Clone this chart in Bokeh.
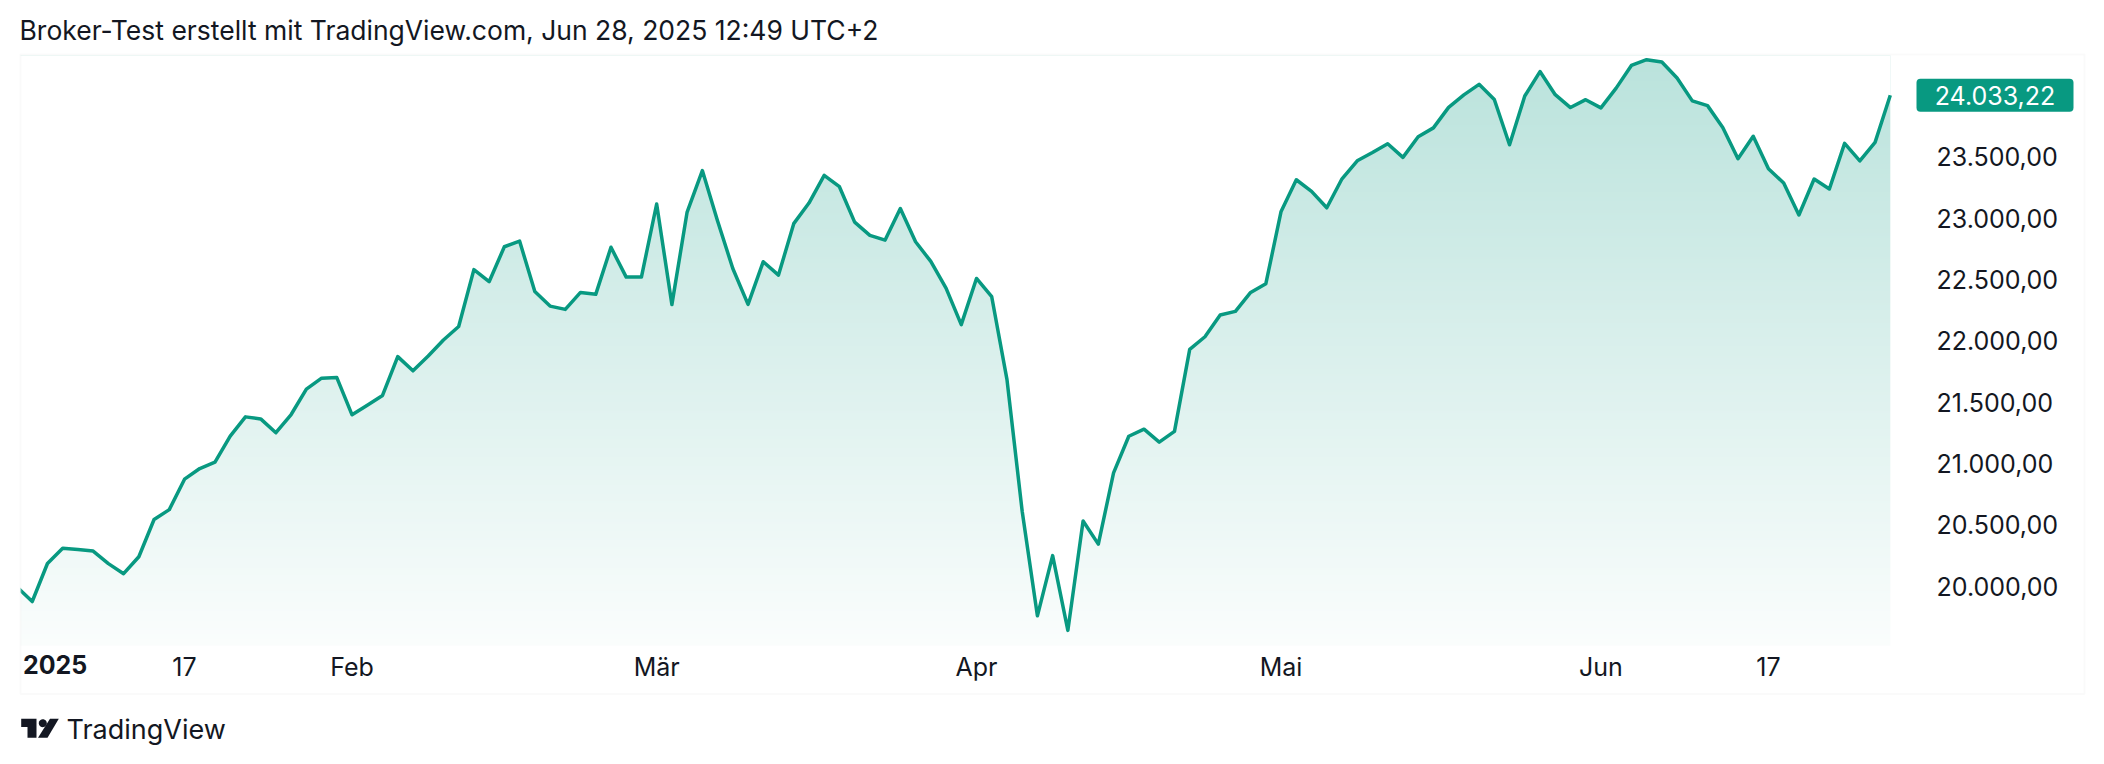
import numpy as np
from bokeh.plotting import figure
from bokeh.models import Range1d, FixedTicker, LinearAxis, Label, BoxAnnotation, PolyAnnotation
from bokeh.embed import file_html
from bokeh.resources import INLINE

# ---------------- data (DAX daily closes) ----------------
dates = [
    "2025-01-02", "2025-01-03", "2025-01-06", "2025-01-07", "2025-01-08", "2025-01-09", "2025-01-10",
    "2025-01-13", "2025-01-14", "2025-01-15", "2025-01-16", "2025-01-17", "2025-01-20", "2025-01-21",
    "2025-01-22", "2025-01-23", "2025-01-24", "2025-01-27", "2025-01-28", "2025-01-29", "2025-01-30",
    "2025-01-31",
    "2025-02-03", "2025-02-04", "2025-02-05", "2025-02-06", "2025-02-07", "2025-02-10", "2025-02-11",
    "2025-02-12", "2025-02-13", "2025-02-14", "2025-02-17", "2025-02-18", "2025-02-19", "2025-02-20",
    "2025-02-21", "2025-02-24", "2025-02-25", "2025-02-26", "2025-02-27", "2025-02-28",
    "2025-03-03", "2025-03-04", "2025-03-05", "2025-03-06", "2025-03-07", "2025-03-10", "2025-03-11",
    "2025-03-12", "2025-03-13", "2025-03-14", "2025-03-17", "2025-03-18", "2025-03-19", "2025-03-20",
    "2025-03-21", "2025-03-24", "2025-03-25", "2025-03-26", "2025-03-27", "2025-03-28", "2025-03-31",
    "2025-04-01", "2025-04-02", "2025-04-03", "2025-04-04", "2025-04-07", "2025-04-08", "2025-04-09",
    "2025-04-10", "2025-04-11", "2025-04-14", "2025-04-15", "2025-04-16", "2025-04-17", "2025-04-22",
    "2025-04-23", "2025-04-24", "2025-04-25", "2025-04-28", "2025-04-29", "2025-04-30",
    "2025-05-02", "2025-05-05", "2025-05-06", "2025-05-07", "2025-05-08", "2025-05-09", "2025-05-12",
    "2025-05-13", "2025-05-14", "2025-05-15", "2025-05-16", "2025-05-19", "2025-05-20", "2025-05-21",
    "2025-05-22", "2025-05-23", "2025-05-26", "2025-05-27", "2025-05-28", "2025-05-29", "2025-05-30",
    "2025-06-02", "2025-06-03", "2025-06-04", "2025-06-05", "2025-06-06", "2025-06-09", "2025-06-10",
    "2025-06-11", "2025-06-12", "2025-06-13", "2025-06-16", "2025-06-17", "2025-06-18", "2025-06-19",
    "2025-06-20", "2025-06-23", "2025-06-24", "2025-06-25", "2025-06-26", "2025-06-27",
]

closes = [
    20024.66, 19906.08, 20216.19, 20340.57, 20329.94, 20317.10, 20214.79, 20132.85, 20271.33, 20574.69,
    20655.39, 20903.39, 20990.31, 21042.00, 21254.27, 21411.53, 21394.93, 21282.18, 21430.58, 21637.53,
    21727.20, 21732.05,
    21428.24, 21505.65, 21585.93, 21902.42, 21787.00, 21908.00, 22037.83, 22148.03, 22612.02, 22513.42,
    22798.43, 22844.48, 22433.63, 22314.65, 22287.56, 22425.83, 22410.27, 22794.11, 22550.89, 22551.43,
    23147.02, 22326.81, 23081.03, 23419.48, 23008.94, 22620.95, 22328.77, 22676.41, 22567.14, 22986.82,
    23154.57, 23380.70, 23288.06, 22999.15, 22891.68, 22852.66, 23109.79, 22839.03, 22678.74, 22461.52,
    22163.49,
    22539.98, 22390.84, 21717.39, 20641.72, 19789.62, 20280.26, 19670.88, 20562.63, 20374.10, 20954.83,
    21253.70, 21311.02, 21205.86, 21293.53, 21961.97, 22064.52, 22242.45, 22271.67, 22425.83, 22496.98,
    23086.65, 23344.52, 23249.65, 23115.96, 23352.69, 23499.32, 23566.54, 23638.56, 23527.05, 23695.59,
    23767.43, 23934.88, 24036.11, 24122.40, 23999.17, 23629.58, 24027.65, 24226.49, 24038.19, 23933.23,
    23997.48,
    23930.67, 24091.62, 24276.48, 24323.58, 24304.46, 24174.32, 23987.56, 23948.90, 23771.45, 23516.23,
    23699.12, 23434.65, 23317.81, 23057.38, 23350.55, 23269.02, 23641.58, 23498.33, 23649.30, 24033.22,
]

year_label = "2025"
x_tick_dates = ["2025-01-17", "2025-02-03", "2025-03-03", "2025-04-01", "2025-05-02", "2025-06-02", "2025-06-17"]
x_tick_labels = ["17", "Feb", "Mär", "Apr", "Mai", "Jun", "17"]

y_ticks = [20000, 20500, 21000, 21500, 22000, 22500, 23000, 23500]
y_tick_labels = ["20.000,00", "20.500,00", "21.000,00", "21.500,00",
                 "22.000,00", "22.500,00", "23.000,00", "23.500,00"]

last_price_label = "24.033,22"
title_text = "Broker-Test erstellt mit TradingView.com, Jun 28, 2025 12:49 UTC+2"
brand_text = "TradingView"

# ---------------- styling / layout ----------------
FONT = "Inter"
TEXT = "#131722"
GREEN = "#089981"
BORDER = "#ededed"

W, H = 2088, 756
SLOT = 15.23          # px per bar
X0PX = 16.5           # canvas x of first bar
Y20K = 589.5          # canvas y of 20000
PXU = 0.12266         # px per index point
PANE = (21, 1905, 55, 645)   # left, right, top, bottom of the chart pane (px)
LABEL_LIFT = 4        # price-scale labels sit slightly above their level


def dx(cx):
    return (cx - X0PX) / SLOT


def dy(cy):
    return 20000 + (Y20K - cy) / PXU


idx = np.arange(len(closes))

p = figure(width=W, height=H, output_backend="svg", toolbar_location=None,
           x_range=Range1d(dx(0), dx(W)), y_range=Range1d(dy(H), dy(0)),
           min_border=0, min_border_left=0, min_border_right=0,
           min_border_top=0, min_border_bottom=0,
           x_axis_location=None, y_axis_location=None)
p.extra_y_ranges = {"scale": Range1d(dy(H + LABEL_LIFT), dy(LABEL_LIFT))}
p.outline_line_color = None
p.xgrid.visible = False
p.ygrid.visible = False
p.background_fill_color = "white"
p.border_fill_color = "white"

pane_top = dy(PANE[2])
pane_bot = dy(PANE[3])

# gradient under the line: vertical gradient image, masked above the line
ny = 256
t = np.linspace(0.0, 1.0, ny)
alpha = 0.02 + t * (0.28 - 0.02)
img = np.empty((ny, 1), dtype=np.uint32)
view = img.view(dtype=np.uint8).reshape((ny, 1, 4))
view[:, 0, 0] = np.round(255 - alpha * (255 - 8)).astype(np.uint8)
view[:, 0, 1] = np.round(255 - alpha * (255 - 153)).astype(np.uint8)
view[:, 0, 2] = np.round(255 - alpha * (255 - 129)).astype(np.uint8)
view[:, 0, 3] = 255
p.image_rgba(image=[img], x=0, y=pane_bot, dw=len(closes) - 1, dh=pane_top - pane_bot)
p.varea(x=idx, y1=closes, y2=pane_top, fill_color="white")
p.line(idx, closes, line_color=GREEN, line_width=3.5, line_join="round")

# cut the pane at its left edge
p.add_layout(BoxAnnotation(left=dx(-5), right=dx(PANE[0] - 1), top=dy(40), bottom=dy(700),
                           fill_color="white", fill_alpha=1, line_color=None))

# right price axis (labels drawn inside the canvas)
yax = LinearAxis(y_range_name="scale", ticker=FixedTicker(ticks=y_ticks),
                 major_label_overrides={v: s for v, s in zip(y_ticks, y_tick_labels)})
yax.axis_line_color = None
yax.major_tick_line_color = None
yax.minor_tick_line_color = None
yax.major_tick_out = 0
yax.major_tick_in = 0
yax.minor_tick_out = 0
yax.major_label_standoff = 1936 - W
yax.major_label_text_font = FONT
yax.major_label_text_font_size = "25px"
yax.major_label_text_color = TEXT
p.add_layout(yax, "right")

# bottom time axis
tick_idx = [dates.index(d) for d in x_tick_dates]
xax = LinearAxis(ticker=FixedTicker(ticks=tick_idx),
                 major_label_overrides={i: s for i, s in zip(tick_idx, x_tick_labels)})
xax.axis_line_color = None
xax.major_tick_line_color = None
xax.minor_tick_line_color = None
xax.major_tick_out = 0
xax.major_tick_in = 0
xax.minor_tick_out = 0
xax.major_label_standoff = 651 - H
xax.major_label_text_font = FONT
xax.major_label_text_font_size = "25px"
xax.major_label_text_color = TEXT
p.add_layout(xax, "below")

# year label (left-clamped like TradingView)
p.add_layout(Label(x=dx(22.5), y=dy(654), text=year_label, text_align="left", text_baseline="top",
                   text_font=FONT, text_font_size="25px", text_font_style="bold", text_color=TEXT))

# outer frame border
p.add_layout(BoxAnnotation(left=dx(20), right=dx(2084), top=dy(54), bottom=dy(693.5),
                           fill_alpha=0, line_color=BORDER, line_width=2))

# last price tag
last_val = closes[-1]
tag_half = 16.5 / PXU
p.add_layout(BoxAnnotation(left=dx(1916), right=dx(2073), top=last_val + tag_half,
                           bottom=last_val - tag_half, fill_color=GREEN, fill_alpha=1,
                           line_color=None, border_radius=4))
p.add_layout(Label(x=dx(1994.5), y=last_val, text=last_price_label, text_align="center",
                   text_baseline="middle", text_font=FONT, text_font_size="25px", text_color="white"))

# title
p.add_layout(Label(x=dx(19), y=dy(29), text=title_text, text_align="left", text_baseline="middle",
                   text_font=FONT, text_font_size="26.5px", text_color=TEXT))

# brand logo (approximate TradingView mark) + text
logo_polys = [
    [(20.7, 718.3), (36, 718.3), (36, 737.3), (27, 737.3), (27, 726.5), (20.7, 726.5)],
    [(49.5, 718.3), (58.3, 718.3), (47, 737.3), (37.5, 737.3)],
]
for poly in logo_polys:
    p.add_layout(PolyAnnotation(xs=[dx(a) for a, b in poly], ys=[dy(b) for a, b in poly],
                                fill_color=TEXT, fill_alpha=1, line_color=None))
circ = [(42.3 + 4 * np.cos(a), 722.7 + 4 * np.sin(a)) for a in np.linspace(0, 2 * np.pi, 24)[:-1]]
p.add_layout(PolyAnnotation(xs=[dx(a) for a, b in circ], ys=[dy(b) for a, b in circ],
                            fill_color=TEXT, fill_alpha=1, line_color=None))
p.add_layout(Label(x=dx(66), y=dy(729), text=brand_text, text_align="left", text_baseline="middle",
                   text_font=FONT, text_font_size="27px", text_color=TEXT))

open("out.html", "w").write(file_html(p, INLINE))
